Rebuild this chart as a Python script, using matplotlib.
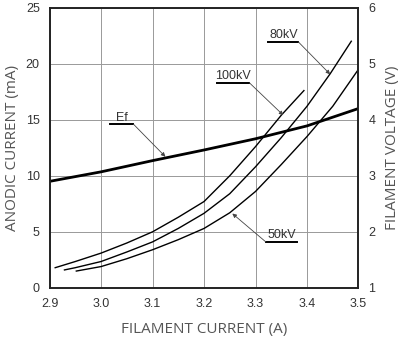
import matplotlib.pyplot as plt
import numpy as np

# filament current (A) vs anodic current (mA)
i_100 = [2.911, 2.95, 3.0, 3.05, 3.1, 3.15, 3.2, 3.25, 3.3, 3.35, 3.394]
ma_100 = [1.8, 2.35, 3.1, 4.0, 5.0, 6.3, 7.7, 10.0, 12.6, 15.4, 17.6]

i_80 = [2.929, 2.95, 3.0, 3.05, 3.1, 3.15, 3.2, 3.25, 3.3, 3.35, 3.4, 3.445, 3.486]
ma_80 = [1.6, 1.8, 2.35, 3.2, 4.1, 5.3, 6.65, 8.4, 10.8, 13.4, 16.2, 19.1, 22.0]

i_50 = [2.952, 3.0, 3.05, 3.1, 3.15, 3.2, 3.25, 3.3, 3.35, 3.4, 3.45, 3.5]
ma_50 = [1.5, 1.9, 2.6, 3.4, 4.3, 5.3, 6.7, 8.6, 11.0, 13.5, 16.2, 19.5]

# filament voltage (V)
i_ef = [2.9, 3.0, 3.1, 3.2, 3.3, 3.4, 3.5]
v_ef = [2.9, 3.07, 3.27, 3.46, 3.66, 3.89, 4.2]

xticks = [2.9, 3.0, 3.1, 3.2, 3.3, 3.4, 3.5]
gray = '#555555'

fig = plt.figure(figsize=(4.06, 3.46), dpi=100)
ax = fig.add_axes([0.122, 0.168, 0.761, 0.81])
ax2 = ax.twinx()

ax.plot(i_100, ma_100, color='black', lw=1.0)
ax.plot(i_80, ma_80, color='black', lw=1.0)
ax.plot(i_50, ma_50, color='black', lw=1.0)
ax2.plot(i_ef, v_ef, color='black', lw=2.0)

ax.set_xlim(2.9, 3.5)
ax.set_ylim(0, 25)
ax2.set_ylim(1, 6)
ax.set_xticks(xticks)
ax.set_xticklabels(["{:.1f}".format(v) for v in xticks])
ax.set_yticks(np.arange(0, 26, 5))
ax2.set_yticks(np.arange(1, 7, 1))
ax.grid(True, color='#999999', lw=0.7)
ax.set_axisbelow(True)

for a in (ax, ax2):
  a.tick_params(length=0, labelsize=9, labelcolor='#333333', pad=7)
  for lab in a.get_xticklabels() + a.get_yticklabels():
    lab.set_family('Liberation Sans')
  for s in a.spines.values():
    s.set_linewidth(1.2)
    s.set_color('#222222')

ax.set_xlabel("FILAMENT CURRENT (A)", fontsize=11, color=gray, labelpad=9,
  family='Open Sans')
ax.set_ylabel("ANODIC CURRENT (mA)", fontsize=11, color=gray, labelpad=4,
  family='Open Sans')
ax2.set_ylabel("FILAMENT VOLTAGE (V)", fontsize=11, color=gray, labelpad=7,
  family='Open Sans')

# labels with underline and leader arrow
labels = [
  ("80kV", (3.325, 3.383, 21.95), (3.445, 19.05)),
  ("100kV", (3.225, 3.288, 18.3), (3.354, 15.4)),
  ("Ef", (3.018, 3.063, 14.6), (3.125, 11.7)),
  ("50kV", (3.32, 3.381, 4.1), (3.255, 6.63)),
]
for txt, (x0, x1, yl), tip in labels:
  ax.text((x0 + x1) / 2, yl + 0.05, txt, fontsize=9, color='#333333',
    ha='center', va='bottom', family='Liberation Sans')
  ax.plot([x0, x1], [yl, yl], color='black', lw=1.4)
  start = (x1, yl) if txt != "50kV" else (x0, yl)
  ax.annotate("", xy=tip, xytext=start,
    arrowprops=dict(arrowstyle='-|>', color='#444444', lw=0.6,
      mutation_scale=6, shrinkA=0, shrinkB=0))

fig.savefig("out.png", dpi=100)
